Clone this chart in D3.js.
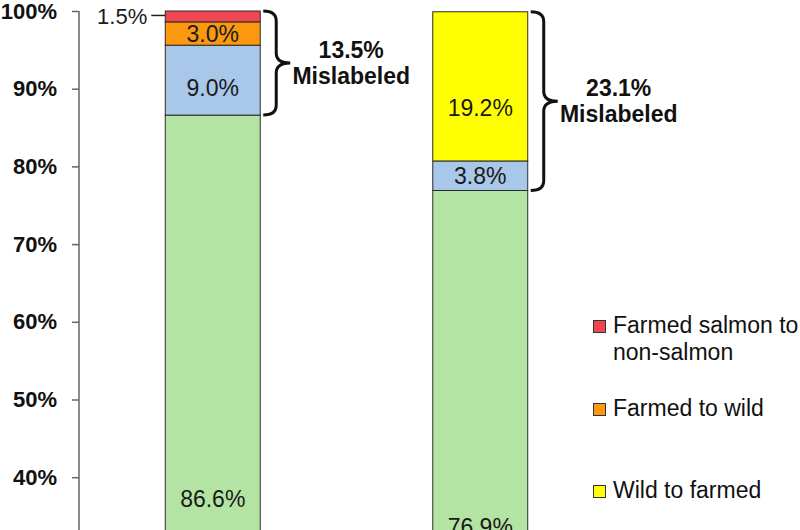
<!DOCTYPE html>
<html>
<head>
<meta charset="utf-8">
<script src="https://cdn.jsdelivr.net/npm/d3@7"></script>
<style>
  html, body { margin: 0; padding: 0; background: #fff; }
  svg { display: block; font-family: "Liberation Sans", Arial, sans-serif; }
</style>
</head>
<body>
<svg id="chart" width="800" height="530"></svg>
<script>
// ---- data ----
const categories = ["Group 1", "Group 2"];
const seriesKeys = ["Correctly labeled", "Other substitution", "Farmed to wild", "Farmed salmon to non-salmon", "Wild to farmed"];
const correctlyLabeled = [86.6, 76.9];
const otherSubstitution = [9.0, 3.8];
const farmedToWild = [3.0, 0];
const farmedSalmonToNonSalmon = [1.5, 0];
const wildToFarmed = [0, 19.2];
const mislabeledTotals = [13.5, 23.1];
const yTickValues = [40, 50, 60, 70, 80, 90, 100];
const legendKeys = ["Farmed salmon to non-salmon", "Farmed to wild", "Wild to farmed"];
const legendLines = [["Farmed salmon to", "non-salmon"], ["Farmed to wild"], ["Wild to farmed"]];

// ---- styles / layout ----
const colors = {
  "Correctly labeled": "#b4e4a3",
  "Other substitution": "#a9c7e9",
  "Farmed to wild": "#fb980f",
  "Farmed salmon to non-salmon": "#ef4651",
  "Wild to farmed": "#ffff00"
};
// label anchor positions (in axis units) where a label is not centred on its segment
const labelAnchor = {
  "0|Correctly labeled": 37.2,
  "1|Correctly labeled": 33.6,
  "0|Other substitution": 90.1,
  "1|Wild to farmed": 87.5
};

const table = categories.map((c, i) => ({
  category: c,
  "Correctly labeled": correctlyLabeled[i],
  "Other substitution": otherSubstitution[i],
  "Farmed to wild": farmedToWild[i],
  "Farmed salmon to non-salmon": farmedSalmonToNonSalmon[i],
  "Wild to farmed": wildToFarmed[i]
}));

const svg = d3.select("#chart");
svg.append("rect").attr("width", 800).attr("height", 530).attr("fill", "#fff");

const y = d3.scaleLinear().domain([0, 100]).range([788, 11]).clamp(true);
const x = d3.scaleBand().domain(categories).range([79, 614])
  .paddingInner(0.645).paddingOuter(0.3225);

const stacked = d3.stack().keys(seriesKeys)(table);

// bars
const g = svg.append("g");
stacked.forEach(layer => {
  layer.forEach((d, i) => {
    if (d[1] - d[0] <= 0) return;
    g.append("rect")
      .attr("x", x(categories[i]))
      .attr("y", y(d[1]))
      .attr("width", x.bandwidth())
      .attr("height", y(d[0]) - y(d[1]))
      .attr("fill", colors[layer.key])
      .attr("stroke", "#2b2b2b")
      .attr("stroke-width", 1);
  });
});

// segment labels
const fmt = v => d3.format(".1f")(v) + "%";
stacked.forEach(layer => {
  layer.forEach((d, i) => {
    const v = d[1] - d[0];
    if (v <= 0) return;
    const cx = x(categories[i]) + x.bandwidth() / 2;
    const key = i + "|" + layer.key;
    if (v < 2) {
      const yc = (y(d[0]) + y(d[1])) / 2;
      const xl = x(categories[i]);
      svg.append("line")
        .attr("x1", xl - 14).attr("x2", xl)
        .attr("y1", yc - 1).attr("y2", yc - 1)
        .attr("stroke", "#222").attr("stroke-width", 1.5);
      svg.append("text")
        .attr("x", xl - 18).attr("y", yc)
        .attr("dy", "0.36em")
        .attr("text-anchor", "end")
        .attr("font-size", 22)
        .attr("fill", "#1a1a1a")
        .text(fmt(v));
      return;
    }
    const yc = labelAnchor[key] !== undefined ? y(labelAnchor[key]) : (y(d[0]) + y(d[1])) / 2;
    svg.append("text")
      .attr("x", cx).attr("y", yc)
      .attr("dy", "0.36em")
      .attr("text-anchor", "middle")
      .attr("font-size", 23)
      .attr("fill", "#1a1a1a")
      .text(fmt(v));
  });
});

// y axis
const axis = d3.axisLeft(y).tickValues(yTickValues).tickFormat(d => d + "%")
  .tickSize(7).tickSizeOuter(0).tickPadding(15);
const ag = svg.append("g").attr("transform", "translate(79,0)").call(axis);
ag.select(".domain").attr("d", `M0,${y(100)}V530`).attr("stroke", "#666").attr("stroke-width", 1.5);
ag.selectAll(".tick line").attr("stroke", "#666").attr("stroke-width", 1.5);
ag.selectAll(".tick text")
  .attr("font-family", "'Liberation Sans', Arial, sans-serif")
  .attr("font-size", 22).attr("font-weight", "bold").attr("fill", "#111");

// braces
function bracePath(x0, y0, y1) {
  const xm = x0 + 13, xt = x0 + 27, ym = (y0 + y1) / 2, r = 10;
  return `M${x0},${y0} Q${xm},${y0} ${xm},${y0 + r} L${xm},${ym - r} Q${xm},${ym} ${xt},${ym}` +
         ` Q${xm},${ym} ${xm},${ym + r} L${xm},${y1 - r} Q${xm},${y1} ${x0},${y1}`;
}
categories.forEach((c, i) => {
  const top = y(d3.sum(seriesKeys, k => table[i][k]));
  const bottom = y(table[i]["Correctly labeled"]);
  const x0 = x(c) + x.bandwidth() + 3;
  svg.append("path")
    .attr("d", bracePath(x0, top, bottom))
    .attr("fill", "none").attr("stroke", "#111").attr("stroke-width", 3);
  const ym = (top + bottom) / 2;
  const tx = x0 + 27 + 61;
  const t = svg.append("text")
    .attr("text-anchor", "middle")
    .attr("font-size", 23).attr("font-weight", "bold").attr("fill", "#111");
  t.append("tspan").attr("x", tx).attr("y", ym - 5).text(d3.format(".1f")(mislabeledTotals[i]) + "%");
  t.append("tspan").attr("x", tx).attr("y", ym + 21).text("Mislabeled");
});

// legend
const legendTops = [320, 403, 485];
legendKeys.forEach((k, i) => {
  const ty = legendTops[i];
  svg.append("rect")
    .attr("x", 593.5).attr("y", ty + 0.5)
    .attr("width", 12).attr("height", 12)
    .attr("fill", colors[k]).attr("stroke", "#333").attr("stroke-width", 1);
  const t = svg.append("text").attr("font-size", 23).attr("fill", "#111");
  legendLines[i].forEach((line, j) => {
    t.append("tspan").attr("x", 613).attr("y", ty + 13 + j * 27).text(line);
  });
});
</script>
</body>
</html>
